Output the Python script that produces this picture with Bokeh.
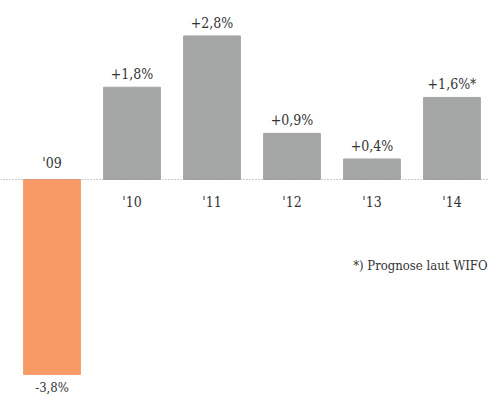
from bokeh.plotting import figure
from bokeh.models import ColumnDataSource, Span, Range1d, Label
from bokeh.core.properties import value
from bokeh.embed import file_html
from bokeh.resources import INLINE

years = ["'09", "'10", "'11", "'12", "'13", "'14"]
growth = [-3.8, 1.8, 2.8, 0.9, 0.4, 1.6]
value_labels = ["-3,8%", "+1,8%", "+2,8%", "+0,9%", "+0,4%", "+1,6%*"]
footnote = "*) Prognose laut WIFO"

GREY = "#a4a6a5"
ORANGE = "#f79a66"
TXT = "#333333"
FONTNAME = "DejaVu Serif Condensed, DejaVu Serif, serif"
FONT = value(FONTNAME)

xs = list(range(len(years)))
colors = [ORANGE if v < 0 else GREY for v in growth]

src = ColumnDataSource(dict(x=xs, top=growth, color=colors))

p = figure(width=489, height=397, output_backend="svg", toolbar_location=None,
           x_range=Range1d(-0.644, 5.469), y_range=Range1d(-4.25, 3.49),
           min_border=0, outline_line_color=None, background_fill_color="white",
           border_fill_color="white")
p.axis.visible = False
p.grid.visible = False

p.vbar(x="x", top="top", bottom=0, width=0.71, color="color", source=src)

p.add_layout(Span(location=0, dimension="width", line_color="#9a9a9a",
                  line_dash="1 2", line_width=1))

pos = [i for i, v in enumerate(growth) if v >= 0]
neg = [i for i, v in enumerate(growth) if v < 0]

psrc = ColumnDataSource(dict(x=[xs[i] for i in pos], y=[growth[i] for i in pos],
                             lab=[value_labels[i] for i in pos], year=[years[i] for i in pos]))
nsrc = ColumnDataSource(dict(x=[xs[i] for i in neg], y=[growth[i] for i in neg],
                             lab=[value_labels[i] for i in neg], year=[years[i] for i in neg]))

# value labels
p.text(x="x", y="y", text="lab", source=psrc, text_align="center", text_baseline="bottom",
       y_offset=-5, text_font=FONT, text_font_size="14px", text_color=TXT)
p.text(x="x", y="y", text="lab", source=nsrc, text_align="center", text_baseline="top",
       y_offset=6, text_font=FONT, text_font_size="13px", text_color=TXT)

# year labels
p.text(x="x", y=0, text="year", source=psrc, text_align="center", text_baseline="middle",
       y_offset=22, text_font=FONT, text_font_size="14px", text_color=TXT)
p.text(x="x", y=0, text="year", source=nsrc, text_align="center", text_baseline="middle",
       y_offset=-17, text_font=FONT, text_font_size="14px", text_color=TXT)

p.add_layout(Label(x=487, y=397 - 265, x_units="screen", y_units="screen", text=footnote,
                   text_align="right", text_baseline="middle", text_font=FONTNAME,
                   text_font_size="13px", text_color=TXT))

open("out.html", "w").write(file_html(p, INLINE))
